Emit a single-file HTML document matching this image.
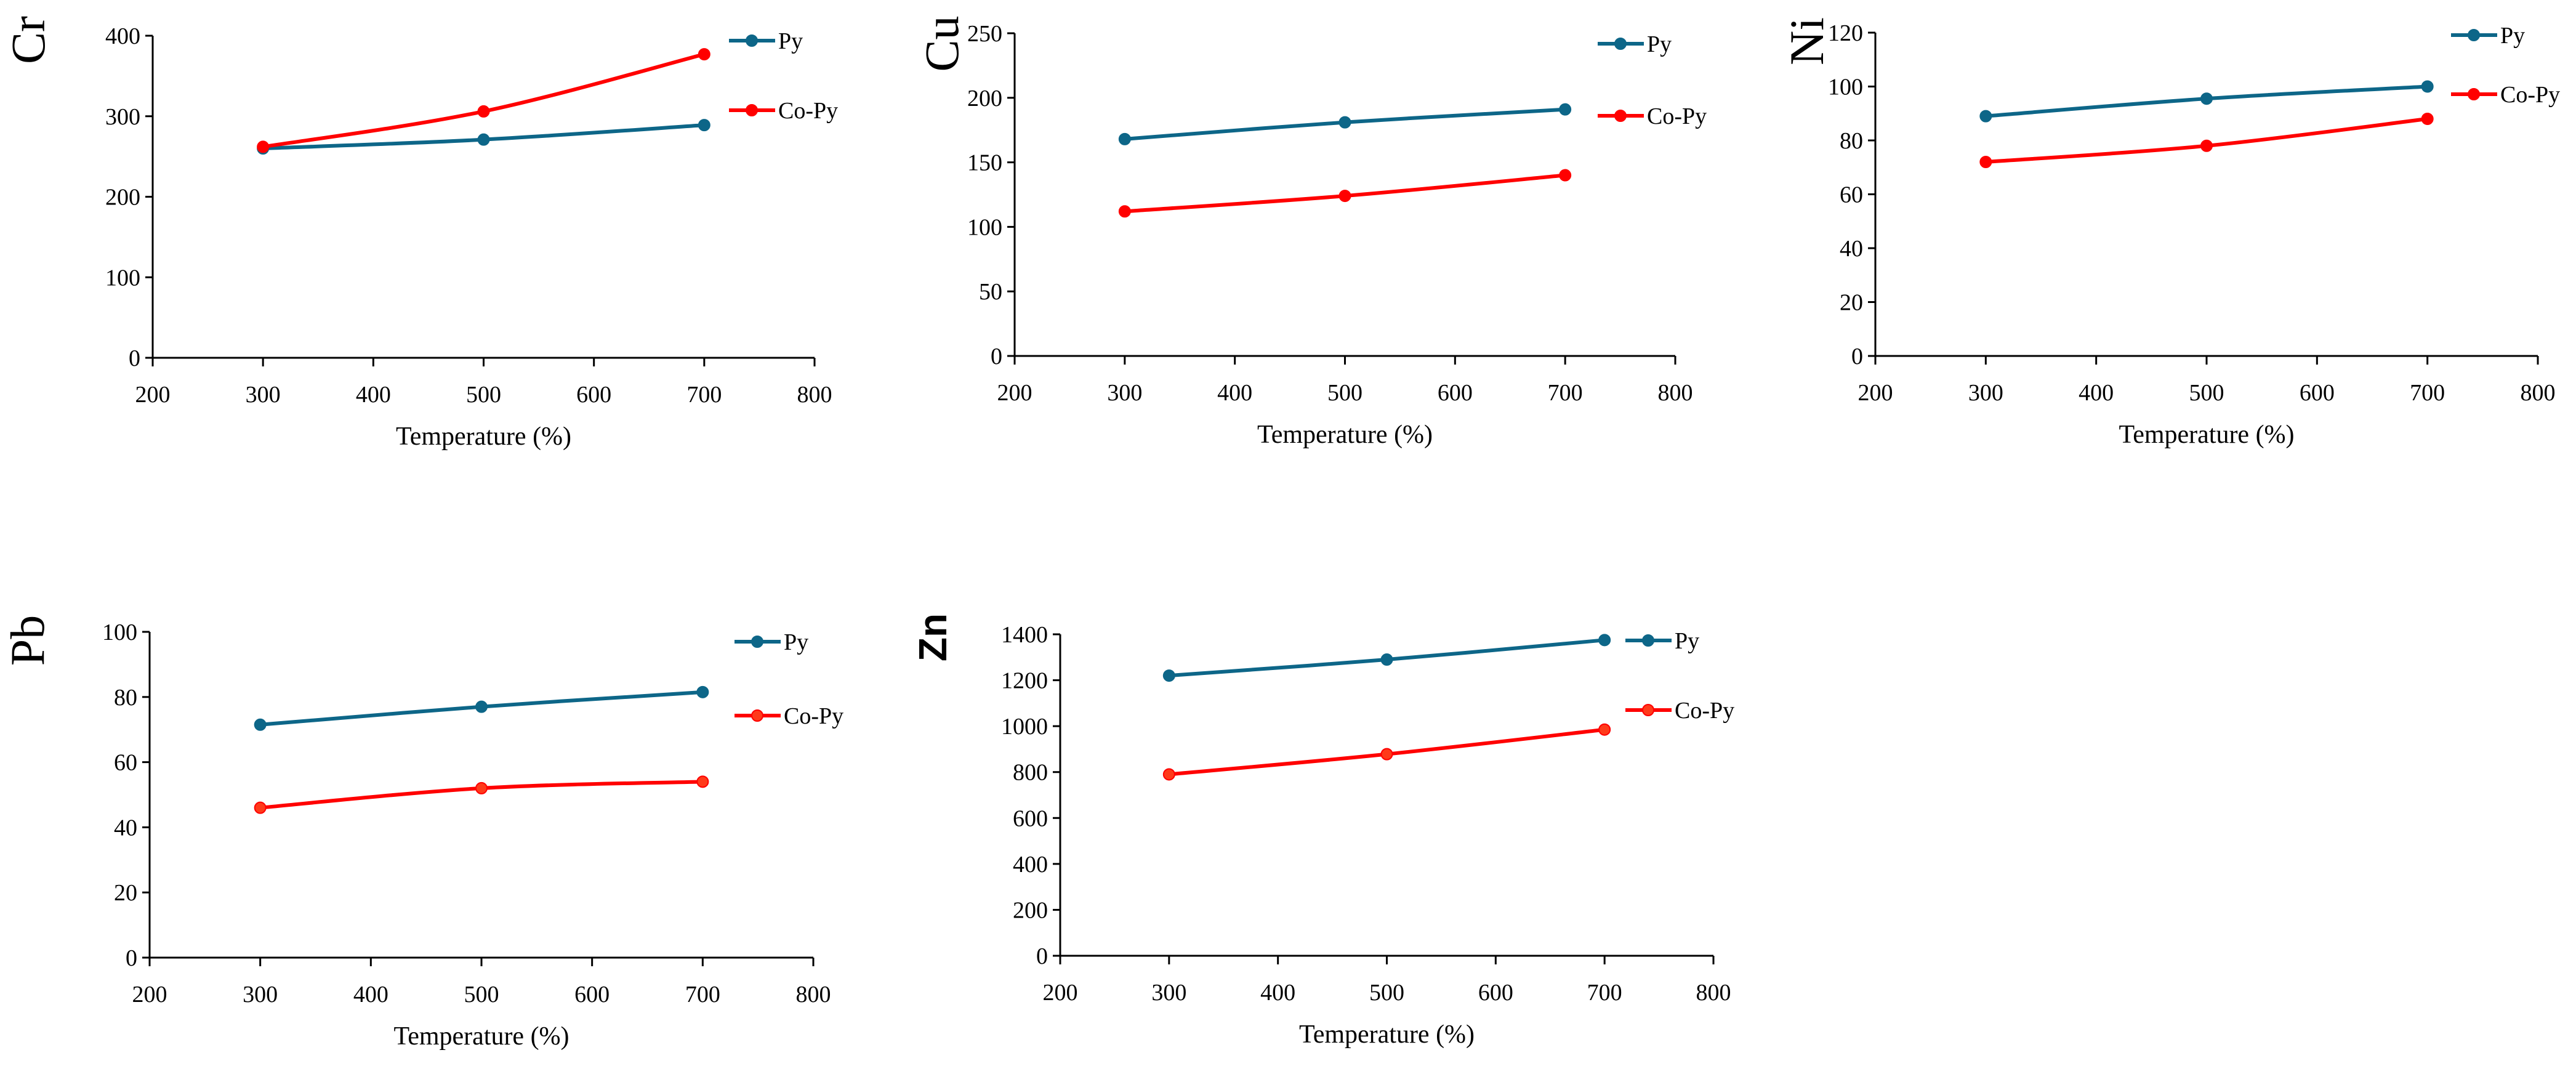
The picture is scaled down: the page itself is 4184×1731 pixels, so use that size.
<!DOCTYPE html>
<html><head><meta charset="utf-8"><style>
html,body{margin:0;padding:0;background:#fff;}
svg{display:block;}
text{font-family:"Liberation Serif",serif;fill:#000;}
</style></head><body>
<svg id="fig" width="4184" height="1731" viewBox="0 0 4184 1731" xmlns="http://www.w3.org/2000/svg"></svg>
<script>
const temps=[300,500,700];
const xTicks=[200,300,400,500,600,700,800];
const crPy=[260,271,289];
const crCo=[262,306,377];
const cuPy=[168,181,191];
const cuCo=[112,124,140];
const niPy=[89,95.5,100];
const niCo=[72,78,88];
const pbPy=[71.5,77,81.5];
const pbCo=[46,52,54];
const znPy=[1220,1290,1375];
const znCo=[790,878,985];
const crTicks=[0,100,200,300,400];
const cuTicks=[0,50,100,150,200,250];
const niTicks=[0,20,40,60,80,100,120];
const pbTicks=[0,20,40,60,80,100];
const znTicks=[0,200,400,600,800,1000,1200,1400];
const seriesNames=["Py","Co-Py"];

const NS="http://www.w3.org/2000/svg";
const svg=document.getElementById('fig');
function mk(tag,attrs,parent){const e=document.createElementNS(NS,tag);for(const k in attrs)e.setAttribute(k,attrs[k]);(parent||svg).appendChild(e);return e;}

const charts=[
 {id:'cr',title:'Cr',py:crPy,co:crCo,ticks:crTicks,x0:248,x1:1323,yT:58,yB:581,tx:46,ty:65,sans:false,lx:1221,l1:66,l2:179},
 {id:'cu',title:'Cu',py:cuPy,co:cuCo,ticks:cuTicks,x0:1648,x1:2721,yT:54,yB:578,tx:1530,ty:71,sans:false,lx:2632,l1:71,l2:188},
 {id:'ni',title:'Ni',py:niPy,co:niCo,ticks:niTicks,x0:3046,x1:4122,yT:53,yB:578,tx:2935,ty:67,sans:false,lx:4018,l1:57,l2:153},
 {id:'pb',title:'Pb',py:pbPy,co:pbCo,ticks:pbTicks,x0:243,x1:1321,yT:1026,yB:1555,tx:45,ty:1040,sans:false,lx:1230,l1:1042,l2:1162},
 {id:'zn',title:'Zn',py:znPy,co:znCo,ticks:znTicks,x0:1722,x1:2783,yT:1030,yB:1552,tx:1511,ty:1035,sans:true,lx:2677,l1:1040,l2:1153}
];

function smoothPath(pts){
  let d='M'+pts[0][0]+','+pts[0][1];
  for(let i=0;i<pts.length-1;i++){
    const p0=pts[Math.max(0,i-1)],p1=pts[i],p2=pts[i+1],p3=pts[Math.min(pts.length-1,i+2)];
    const t=0.17;
    const c1=[p1[0]+(p2[0]-p0[0])*t,p1[1]+(p2[1]-p0[1])*t];
    const c2=[p2[0]-(p3[0]-p1[0])*t,p2[1]-(p3[1]-p1[1])*t];
    d+=' C'+c1[0]+','+c1[1]+' '+c2[0]+','+c2[1]+' '+p2[0]+','+p2[1];
  }
  return d;
}

charts.forEach(c=>{
  const g=mk('g',{});
  
  
  const ymax=c.ticks[c.ticks.length-1];
  const X=v=>c.x0+(v-200)/600*(c.x1-c.x0);
  const Y=v=>c.yB-(v/ymax)*(c.yB-c.yT);
  const ya=mk('line',{x1:c.x0,y1:c.yT,x2:c.x0,y2:c.yB,stroke:'#000','stroke-width':3},g);
  
  
  const xa=mk('line',{x1:c.x0-12,y1:c.yB,x2:c.x1,y2:c.yB,stroke:'#000','stroke-width':3},g);
  
  
  c.ticks.forEach(t=>{
    mk('line',{x1:c.x0-12,y1:Y(t),x2:c.x0,y2:Y(t),stroke:'#000','stroke-width':3},g);
    const tl=mk('text',{x:c.x0-20,y:Y(t)+13,'text-anchor':'end','font-size':38},g);
    tl.textContent=t;
    
    
  });
  xTicks.forEach(t=>{
    mk('line',{x1:X(t),y1:c.yB,x2:X(t),y2:c.yB+14,stroke:'#000','stroke-width':3},g);
    const tl=mk('text',{x:X(t),y:c.yB+72,'text-anchor':'middle','font-size':38},g);
    tl.textContent=t;
    
    
  });
  const xt=mk('text',{x:(c.x0+c.x1)/2,y:c.yB+141,'text-anchor':'middle','font-size':42},g);
  xt.textContent='Temperature (%)';
  
  
  const tt=mk('text',{x:0,y:0,'text-anchor':'middle','font-size':c.sans?64:78,transform:'translate('+(c.tx+26)+','+c.ty+') rotate(-90)'},g);
  if(c.sans)tt.setAttribute('style','font-family:"Liberation Sans",sans-serif;font-weight:bold');
  tt.textContent=c.title;
  
  
  [[c.py,'#0d6688','#0d6688'],[c.co,'#ff0000',c.sans||c.id==='pb'?'#ff3a1a':'#ff0000']].forEach((s,si)=>{
    const pts=temps.map((t,i)=>[X(t),Y(s[0][i])]);
    const p=mk('path',{d:smoothPath(pts),fill:'none',stroke:s[1],'stroke-width':6},g);
    
    
    pts.forEach(pt=>{
      const m=mk('circle',{cx:pt[0],cy:pt[1],r:9,fill:s[2],stroke:s[1],'stroke-width':2},g);
      
      
    });
    const ly=si===0?c.l1:c.l2;
    const lg=mk('g',{},g);
    
    
    mk('line',{x1:c.lx-37,y1:ly,x2:c.lx+38,y2:ly,stroke:s[1],'stroke-width':6},lg);
    mk('circle',{cx:c.lx,cy:ly,r:9,fill:s[2],stroke:s[1],'stroke-width':2},lg);
    const lt=mk('text',{x:c.lx+43,y:ly+13,'font-size':38},lg);
    lt.textContent=seriesNames[si];
  });
});
</script>
</body></html>
